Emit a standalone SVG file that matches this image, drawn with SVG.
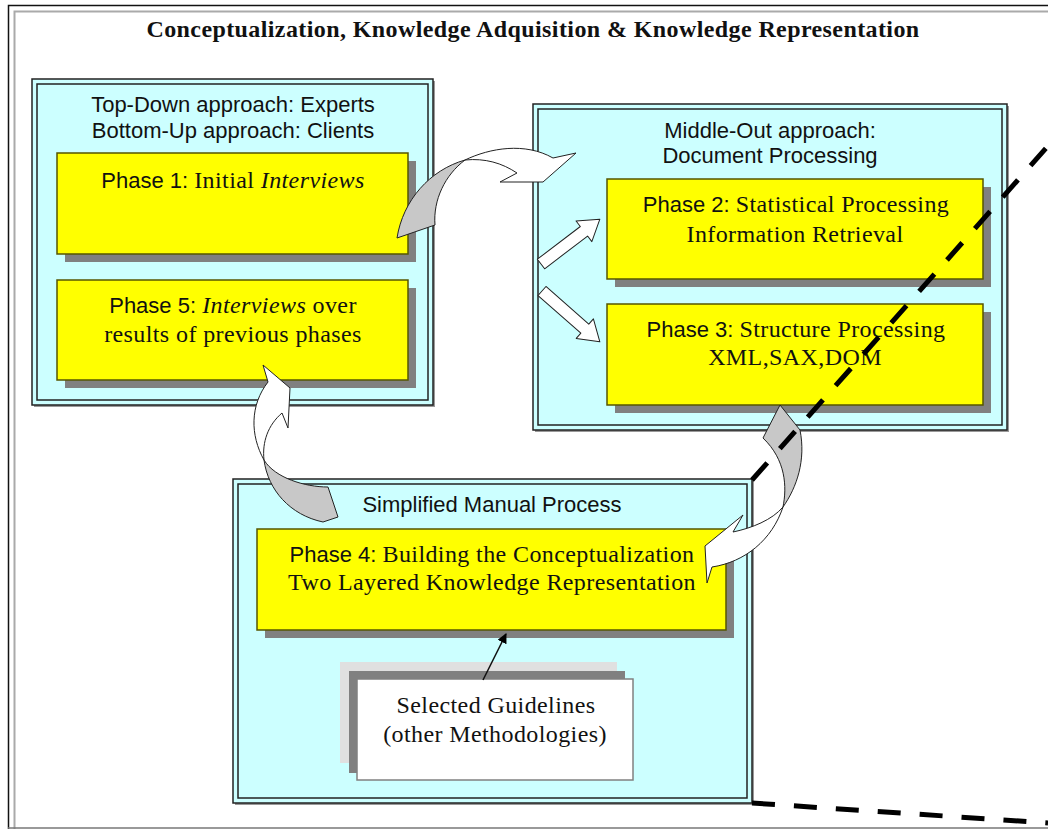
<svg xmlns="http://www.w3.org/2000/svg" width="1048" height="829" viewBox="0 0 1048 829">
<style>
.sans{font-family:"Liberation Sans",Arial,sans-serif;font-size:22px;fill:#111}
.serif{font-family:"Liberation Serif","Times New Roman",serif;font-size:24px;letter-spacing:0.4px;fill:#111}
.it{font-style:italic}
.grp{fill:#ccffff;stroke:#222;stroke-width:1.5}
.ph{fill:#ffff00;stroke:#555500;stroke-width:1.5}
.sh{fill:#808080}
.ba{stroke:#222;stroke-width:1;stroke-linejoin:round}
.dash{stroke:#000;stroke-width:5;stroke-dasharray:23 19;fill:none}
</style>
<defs>
<marker id="tri" markerWidth="10" markerHeight="10" refX="9" refY="5" orient="auto" markerUnits="userSpaceOnUse" viewBox="0 0 10 10"><path d="M0,0 L10,5 L0,10 Z" fill="#000"/></marker>
</defs>
<rect width="1048" height="829" fill="#fff"/>
<g id="frame" fill="none">
<path d="M8.5,829 V5.5 H1048" stroke="#111" stroke-width="1.5"/>
<path d="M14.5,829 V11.5 H1048" stroke="#aaa" stroke-width="2"/>
<path d="M8,828 H1048" stroke="#777" stroke-width="1.5"/>
</g>
<text x="533" y="37" text-anchor="middle" style="font-family:'Liberation Serif','Times New Roman',serif;font-size:24px;letter-spacing:0.4px;font-weight:bold;fill:#111">Conceptualization, Knowledge Adquisition &amp; Knowledge Representation</text>

<g id="group-topdown">
<rect x="34" y="81" width="401" height="326" fill="#999"/>
<rect x="32" y="79" width="401" height="326" class="grp"/>
<rect x="37" y="84" width="391" height="316" class="grp"/>
<text x="233" y="112" text-anchor="middle" class="sans">Top-Down approach: Experts</text>
<text x="233" y="138" text-anchor="middle" class="sans">Bottom-Up approach: Clients</text>
</g>
<g id="phase1">
<rect x="65" y="161" width="351" height="101" class="sh"/>
<rect x="57" y="153" width="351" height="101" class="ph"/>
<text x="233" y="188" text-anchor="middle"><tspan class="sans">Phase 1: </tspan><tspan class="serif">Initial </tspan><tspan class="serif it">Interviews</tspan></text>
</g>
<g id="phase5">
<rect x="65" y="288" width="351" height="100" class="sh"/>
<rect x="57" y="280" width="351" height="100" class="ph"/>
<text x="233" y="313" text-anchor="middle"><tspan class="sans">Phase 5: </tspan><tspan class="serif it">Interviews</tspan><tspan class="serif"> over</tspan></text>
<text x="233" y="342" text-anchor="middle" class="serif">results of previous phases</text>
</g>

<g id="group-middleout">
<rect x="535" y="106" width="474" height="326" fill="#999"/>
<rect x="533" y="104" width="474" height="326" class="grp"/>
<rect x="538" y="109" width="464" height="316" class="grp"/>
<text x="770" y="138" text-anchor="middle" class="sans">Middle-Out approach:</text>
<text x="770" y="163" text-anchor="middle" class="sans">Document Processing</text>
</g>
<g id="phase2">
<rect x="615" y="187" width="376" height="100" class="sh"/>
<rect x="607" y="179" width="376" height="100" class="ph"/>
<text x="796" y="212" text-anchor="middle"><tspan class="sans">Phase 2: </tspan><tspan class="serif">Statistical Processing</tspan></text>
<text x="795" y="242" text-anchor="middle" class="serif">Information Retrieval</text>
</g>
<g id="phase3">
<rect x="615" y="312" width="376" height="101" class="sh"/>
<rect x="607" y="304" width="376" height="101" class="ph"/>
<text x="796" y="337" text-anchor="middle"><tspan class="sans">Phase 3: </tspan><tspan class="serif">Structure Processing</tspan></text>
<text x="795" y="365" text-anchor="middle" class="serif">XML,SAX,DOM</text>
</g>

<g id="group-manual">
<rect x="235" y="481" width="519" height="324" fill="#999"/>
<rect x="233" y="479" width="519" height="324" class="grp"/>
<rect x="238" y="484" width="509" height="314" class="grp"/>
<text x="492" y="512" text-anchor="middle" class="sans">Simplified Manual Process</text>
</g>
<g id="phase4">
<rect x="265" y="537" width="469" height="101" class="sh"/>
<rect x="257" y="529" width="469" height="101" class="ph"/>
<text x="492" y="562" text-anchor="middle"><tspan class="sans">Phase 4: </tspan><tspan class="serif">Building the Conceptualization</tspan></text>
<text x="492" y="590" text-anchor="middle" class="serif">Two Layered Knowledge Representation</text>
</g>
<g id="guidelines">
<rect x="340" y="662" width="277" height="101" fill="#e0e0e0"/>
<rect x="349" y="671" width="276" height="102" fill="#808080"/>
<rect x="357" y="679" width="276" height="101" fill="#fff" stroke="#808080" stroke-width="1.5"/>
<text x="496" y="713" text-anchor="middle" class="serif">Selected Guidelines</text>
<text x="495" y="742" text-anchor="middle" class="serif">(other Methodologies)</text>
</g>

<g id="connectors">
<path class="ba" fill="#c8c8c8" d="M465,160 C430,170 403,200 397,238 L435,225 C433,200 445,175 465,160 Z"/>
<path class="ba" fill="#fff" d="M465,160 C490,148 525,142 553,158 L576,153 L543,182 L500,182 L517,173 C502,163 485,158 465,160 Z"/>
<path class="ba" fill="#fff" transform="translate(541,264) rotate(-37.3)" d="M0,-6 L54,-6 L54,-13 L74,0 L54,13 L54,6 L0,6 Z"/>
<path class="ba" fill="#fff" transform="translate(542,291) rotate(41.3)" d="M0,-6 L57,-6 L57,-13 L77,0 L57,13 L57,6 L0,6 Z"/>
<path class="ba" fill="#c8c8c8" d="M780,405 L800,430 C806,460 797,487 783,507 C787,487 786,460 763,438 Z"/>
<path class="ba" fill="#fff" d="M783,507 C772,540 745,562 712,567 L707,583 L705,546 L743,515 L733,532 C752,528 772,520 783,507 Z"/>
<path class="ba" fill="#c8c8c8" d="M264,460 C268,490 290,515 323,522 L338,517 L328,487 C305,487 275,478 264,460 Z"/>
<path class="ba" fill="#fff" d="M264,460 C250,435 250,405 268,382 L263,365 L290,388 L288,428 L282,413 C268,425 262,442 264,460 Z"/>
<line x1="483" y1="680" x2="506" y2="634" stroke="#111" stroke-width="1.5" marker-end="url(#tri)"/>
<path class="dash" d="M752,480 L1048,146"/>
<path class="dash" d="M752,803 L1048,823"/>
</g>
</svg>
